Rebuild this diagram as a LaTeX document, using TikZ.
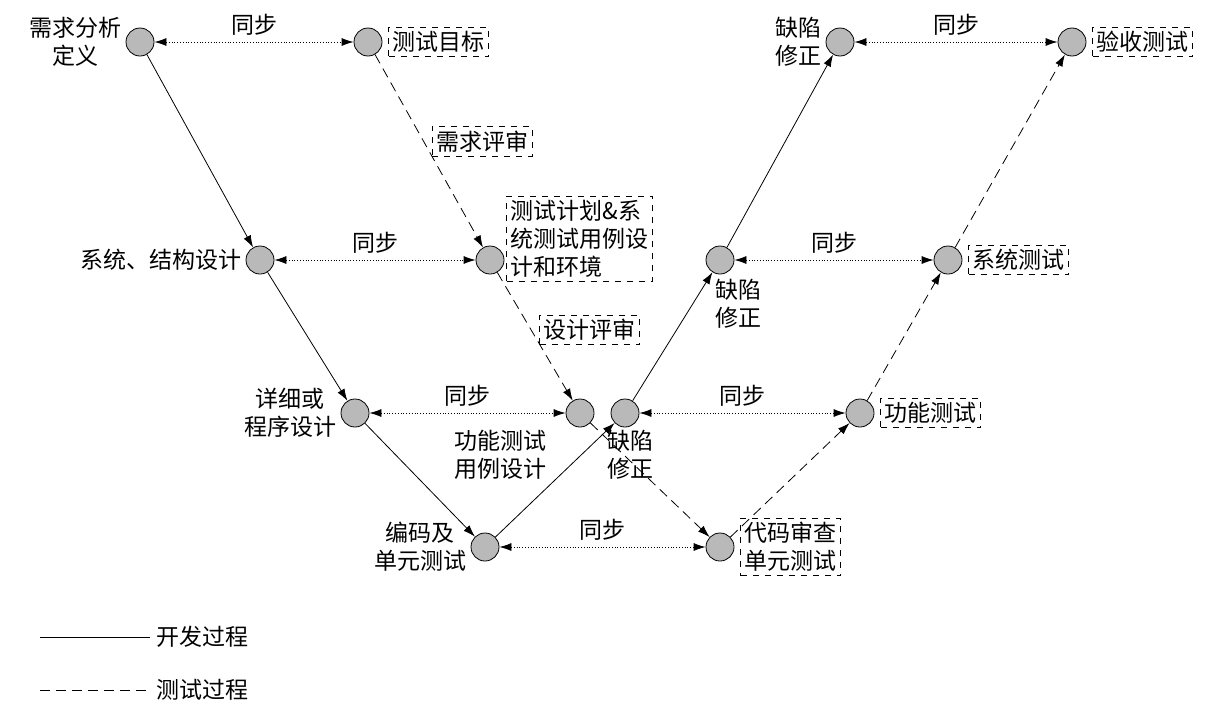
\documentclass[tikz,border=0pt]{standalone}
\usepackage{fontspec}
\newfontfamily\cjk{Noto Sans CJK SC}
\usetikzlibrary{arrows.meta,positioning}
\tikzset{
  dot/.style={circle,draw,fill=gray!55,minimum size=14pt,inner sep=0pt},
  txt/.style={font=\cjk\fontsize{11.5}{14}\selectfont,align=center,inner sep=1pt},
  tbox/.style={txt,draw,dashed,inner sep=2pt,align=left},
  dev/.style={-{Latex[length=6pt,width=4pt]},thin},
  tst/.style={-{Latex[length=6pt,width=4pt]},thin,dash pattern=on 5pt off 3pt},
  sync/.style={{Latex[length=6pt,width=4pt]}-{Latex[length=6pt,width=4pt]},thin,densely dotted}
}
\begin{document}
\begin{tikzpicture}[x=0.5pt,y=-0.5pt]
\useasboundingbox (0,0) rectangle (1218,707);
% development side
\node[dot] (req) at (140,42) {};
\node[dot] (arch) at (260,260) {};
\node[dot] (det) at (355,413) {};
\node[dot] (code) at (485,547) {};
\node[dot] (fix1) at (625,413) {};
\node[dot] (fix2) at (720,260) {};
\node[dot] (fix3) at (840,42) {};
% testing side
\node[dot] (goal) at (368,42) {};
\node[dot] (plan) at (490,260) {};
\node[dot] (fcase) at (580,413) {};
\node[dot] (review) at (720,547) {};
\node[dot] (ftest) at (860,413) {};
\node[dot] (stest) at (948,260) {};
\node[dot] (atest) at (1072,42) {};
% labels
\node[txt,left=1pt of req] {需求分析\\定义};
\node[txt,left=1pt of arch] {系统、结构设计};
\node[txt,left=1pt of det] {详细或\\程序设计};
\node[txt,left=1pt of code] {编码及\\单元测试};
\node[txt] at (630,455) {缺陷\\修正};
\node[txt] at (738,304) {缺陷\\修正};
\node[txt,left=1pt of fix3] {缺陷\\修正};
\node[tbox,right=3pt of goal] {测试目标};
\node[tbox,above right=-16pt and 3pt of plan] {测试计划\&系\\统测试用例设\\计和环境};
\node[txt] at (500,455) {功能测试\\用例设计};
\node[tbox,right=3pt of review] {代码审查\\单元测试};
\node[tbox,right=3pt of ftest] {功能测试};
\node[tbox,right=3pt of stest] {系统测试};
\node[tbox,right=3pt of atest] {验收测试};
% development process
\draw[dev] (req) -- (arch);
\draw[dev] (arch) -- (det);
\draw[dev] (det) -- (code);
\draw[dev] (code) -- (fix1);
\draw[dev] (fix1) -- (fix2);
\draw[dev] (fix2) -- (fix3);
% testing process
\draw[tst] (goal) -- (plan) node[tbox,pos=0.45,right=4pt] {需求评审};
\draw[tst] (plan) -- (fcase) node[tbox,pos=0.45,right=4pt] {设计评审};
\draw[tst] (fcase) -- (review);
\draw[tst] (review) -- (ftest);
\draw[tst] (ftest) -- (stest);
\draw[tst] (stest) -- (atest);
% synchronisation
\foreach \a/\b in {req/goal,arch/plan,det/fcase,code/review,fix1/ftest,fix2/stest,fix3/atest}
  \draw[sync] (\a) -- (\b) node[txt,midway,above=2pt] {同步};
% legend
\coordinate (l1) at (40,637); \coordinate (l2) at (150,637);
\coordinate (l3) at (40,690); \coordinate (l4) at (150,690);
\draw[thin] (l1) -- (l2) node[txt,right=2pt] {开发过程};
\draw[thin,dash pattern=on 5pt off 3pt] (l3) -- (l4) node[txt,right=2pt] {测试过程};
\end{tikzpicture}
\end{document}
